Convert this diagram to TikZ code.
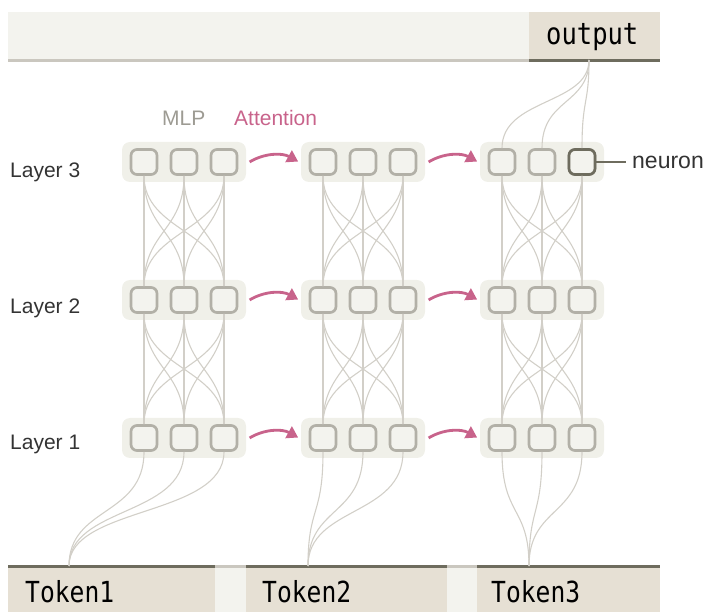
\documentclass[tikz,border=0pt]{standalone}
\usepackage{fontspec}
\setmainfont{Liberation Sans}
\newfontfamily\tokfont[FakeStretch=0.85]{DejaVu Sans Mono}
\usetikzlibrary{arrows.meta,calc}
\definecolor{barbg}{HTML}{F3F3EE}
\definecolor{tokbg}{HTML}{E6E0D4}
\definecolor{darkline}{HTML}{6E6C5E}
\definecolor{lightline}{HTML}{CAC7BF}
\definecolor{grpbg}{HTML}{F0F0E9}
\definecolor{nstroke}{HTML}{B2B0A7}
\definecolor{connc}{HTML}{D2CFC8}
\definecolor{pinkc}{HTML}{C8638B}
\definecolor{mlpc}{HTML}{9D9B93}
\definecolor{labc}{HTML}{333333}
\tikzset{
  grp/.style={rectangle, rounded corners=8pt, fill=grpbg, draw=none, minimum width=124pt, minimum height=40pt, inner sep=0pt},
  neuron/.style={rectangle, rounded corners=6pt, fill=barbg, draw=nstroke, line width=2.7pt, minimum width=26pt, minimum height=25pt, inner sep=0pt},
  conn/.style={draw=connc, line width=1.1pt},
  attn/.style={draw=pinkc, line width=2.8pt, -{Triangle[length=11pt,width=13pt]}, shorten <=4pt, shorten >=3pt},
  lay/.style={anchor=base west, inner sep=0pt, text=labc, font=\fontsize{21}{25}\selectfont},
  tokbox/.style={rectangle, fill=tokbg, draw=none, anchor=north west, minimum height=46pt, inner sep=0pt},
  gapbox/.style={rectangle, fill=barbg, draw=none, anchor=north west, minimum height=46pt, inner sep=0pt},
  toktext/.style={anchor=base west, inner sep=0pt, text=black, font=\tokfont\fontsize{29}{33}\selectfont},
}
\begin{document}
\begin{tikzpicture}[x=1pt,y=-1pt]
\useasboundingbox (0,0) rectangle (713,612);
% top bar
\node[gapbox, minimum width=521pt, minimum height=48pt] (topbar) at (8,12) {};
\node[tokbox, minimum width=131pt, minimum height=48pt] (outbox) at (529,12) {};
\draw[lightline, line width=3pt] (topbar.south west) -- (topbar.south east);
\draw[darkline, line width=3pt] (outbox.south west) -- (outbox.south east);
\node[toktext, font=\tokfont\fontsize{30}{34}\selectfont] (outtext) at (546,45) {output};
% bottom bar
\node[tokbox, minimum width=207pt] (tok1) at (8,566) {};
\node[gapbox, minimum width=31pt] (gap1) at (215,566) {};
\node[tokbox, minimum width=201pt] (tok2) at (246,566) {};
\node[gapbox, minimum width=30pt] (gap2) at (447,566) {};
\node[tokbox, minimum width=183pt] (tok3) at (477,566) {};
\foreach \b in {tok1,tok2,tok3} \draw[darkline, line width=3pt] (\b.north west) -- (\b.north east);
\foreach \b in {gap1,gap2} \draw[lightline, line width=3pt] (\b.north west) -- (\b.north east);
\node[toktext] (tt1) at (25,602) {Token1};
\node[toktext] (tt2) at (262,602) {Token2};
\node[toktext] (tt3) at (491,602) {Token3};
\coordinate (T1) at (69,566);
\coordinate (T2) at (308,566);
\coordinate (T3) at (529,566);
\coordinate (O) at (589,60);
% groups
\foreach \g/\cx in {1/184,2/363,3/542}
  \foreach \l/\cy in {1/438,2/300,3/162}
    \node[grp] (G\g\l) at (\cx,\cy) {};
% neurons
\foreach \g/\cx in {1/184,2/363,3/542}
  \foreach \l/\cy in {1/438,2/300,3/162}
    \foreach \i/\dx in {a/-40,b/0,c/40}
      \node[neuron] (N\g\l\i) at (\cx+\dx,\cy) {};
\node[neuron, draw=darkline] at (N33c) {};
% MLP connections
\foreach \g in {1,2,3}
  \foreach \u/\d in {3/2,2/1}
    \foreach \i in {a,b,c}
      \foreach \j in {a,b,c}
        \draw[conn] (N\g\u\i.south) .. controls +(0,55) and +(0,-55) .. (N\g\d\j.north);
% token connections
\foreach \g in {1,2,3}
  \foreach \i in {a,b,c}
    \draw[conn] (N\g1\i.south) .. controls +(0,65) and +(0,-60) .. (T\g);
% output connections
\foreach \i in {a,b,c}
  \draw[conn] (N33\i.north) .. controls +(0,-50) and +(0,45) .. (O);
% attention arrows
\foreach \l in {1,2,3} {
  \draw[attn] ($(G1\l.east)+(0,2)$) to[bend left=30] ($(G2\l.west)+(0,1)$);
  \draw[attn] ($(G2\l.east)+(0,2)$) to[bend left=30] ($(G3\l.west)+(0,1)$);
}
% labels
\node[lay] (l3) at (10,178) {Layer 3};
\node[lay] (l2) at (10,314) {Layer 2};
\node[lay] (l1) at (10,450) {Layer 1};
\node[lay, text=mlpc] (mlp) at (162,125.5) {MLP};
\node[lay, text=pinkc] (att) at (234,125.5) {Attention};
\node[anchor=west, inner sep=0pt, text=labc, font=\fontsize{23}{27}\selectfont] (nlab) at (632,162) {neuron};
\draw[darkline, line width=2pt] (N33c.east) -- ([xshift=-6pt]nlab.west);
\end{tikzpicture}
\end{document}
